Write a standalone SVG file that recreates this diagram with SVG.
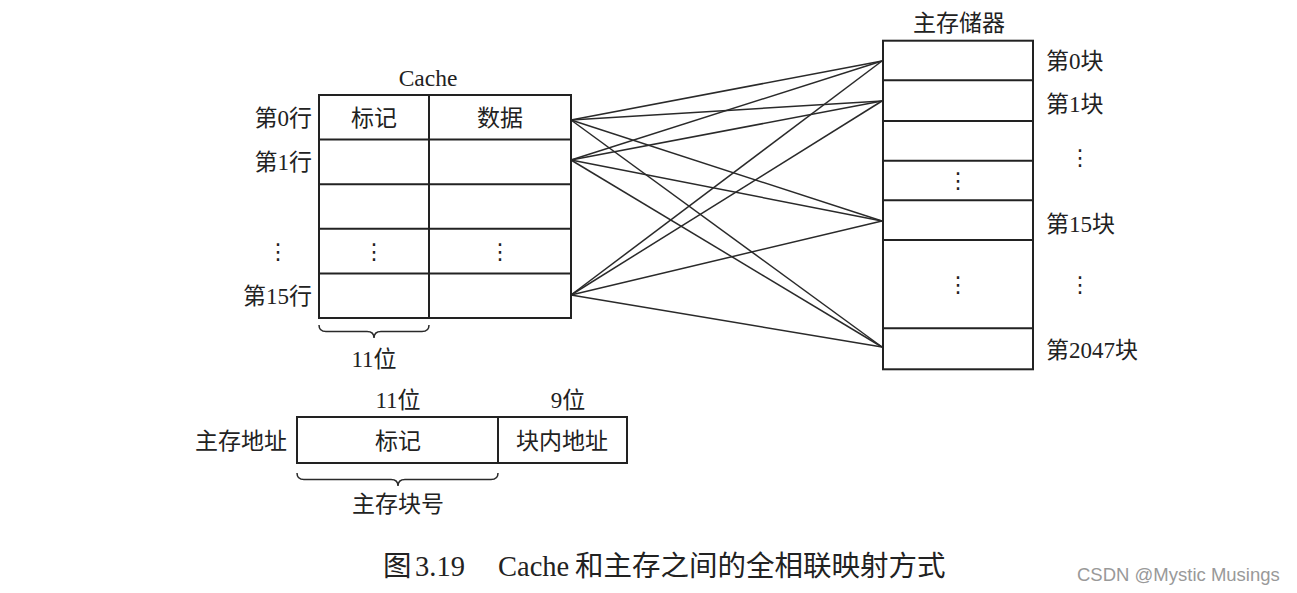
<svg xmlns="http://www.w3.org/2000/svg" width="1297" height="593" viewBox="0 0 1297 593">
<style>
.box{fill:#fff;stroke:#222;stroke-width:2}
.ln{stroke:#222;stroke-width:2;fill:none}
.cn{stroke:#2a2a2a;stroke-width:1.5;fill:none}
.t{font-family:"Liberation Serif","Noto Sans CJK SC",serif;font-size:23px;fill:#222}
.c{text-anchor:middle}
.r{text-anchor:end}
.dots{font-family:"DejaVu Sans",sans-serif;font-size:22px;fill:#222;text-anchor:middle}
.cap{font-family:"Liberation Serif","Noto Sans CJK SC",serif;font-size:28.5px;fill:#222}
.wm{font-family:"Liberation Sans",Arial,sans-serif;font-size:18.5px;fill:#999}
</style>
<rect width="1297" height="593" fill="#fff"/>

<g id="connectors">
<line class="cn" x1="571" y1="120" x2="882" y2="61"/>
<line class="cn" x1="571" y1="120" x2="882" y2="101"/>
<line class="cn" x1="571" y1="120" x2="882" y2="221"/>
<line class="cn" x1="571" y1="120" x2="882" y2="347"/>
<line class="cn" x1="571" y1="160" x2="882" y2="61"/>
<line class="cn" x1="571" y1="160" x2="882" y2="101"/>
<line class="cn" x1="571" y1="160" x2="882" y2="221"/>
<line class="cn" x1="571" y1="160" x2="882" y2="347"/>
<line class="cn" x1="571" y1="295" x2="882" y2="61"/>
<line class="cn" x1="571" y1="295" x2="882" y2="101"/>
<line class="cn" x1="571" y1="295" x2="882" y2="221"/>
<line class="cn" x1="571" y1="295" x2="882" y2="347"/>
</g>

<g id="cache">
<text class="t c" x="428" y="86" style="font-size:23.5px">Cache</text>
<rect class="box" x="319" y="95" width="252" height="223"/>
<line class="ln" x1="429" y1="95" x2="429" y2="318"/>
<line class="ln" x1="319" y1="139.6" x2="571" y2="139.6"/>
<line class="ln" x1="319" y1="184.2" x2="571" y2="184.2"/>
<line class="ln" x1="319" y1="228.8" x2="571" y2="228.8"/>
<line class="ln" x1="319" y1="273.4" x2="571" y2="273.4"/>
<text class="t c" x="374" y="126">标记</text>
<text class="t c" x="500" y="126">数据</text>
<text class="t r" x="312" y="126">第0行</text>
<text class="t r" x="312" y="170">第1行</text>
<text class="dots" x="278" y="259">⋮</text>
<text class="dots" x="374" y="259">⋮</text>
<text class="dots" x="500" y="259">⋮</text>
<text class="t r" x="312" y="304">第15行</text>
<path class="cn" d="M319,325 Q319,331.5 326,331.5 L367,331.5 Q374,331.5 374,338 Q374,331.5 381,331.5 L422,331.5 Q429,331.5 429,325"/>
<text class="t c" x="374" y="367">11位</text>
</g>

<g id="memory">
<text class="t c" x="959" y="31">主存储器</text>
<rect class="box" x="883" y="40.7" width="150" height="328.6"/>
<line class="ln" x1="883" y1="80.3" x2="1033" y2="80.3"/>
<line class="ln" x1="883" y1="121" x2="1033" y2="121"/>
<line class="ln" x1="883" y1="160.7" x2="1033" y2="160.7"/>
<line class="ln" x1="883" y1="200.3" x2="1033" y2="200.3"/>
<line class="ln" x1="883" y1="240" x2="1033" y2="240"/>
<line class="ln" x1="883" y1="328.3" x2="1033" y2="328.3"/>
<text class="dots" x="958" y="188">⋮</text>
<text class="dots" x="958" y="292">⋮</text>
<text class="t" x="1046" y="69">第0块</text>
<text class="t" x="1046" y="112">第1块</text>
<text class="dots" x="1080" y="165">⋮</text>
<text class="t" x="1046" y="232">第15块</text>
<text class="dots" x="1080" y="292">⋮</text>
<text class="t" x="1046" y="358">第2047块</text>
</g>

<g id="address">
<text class="t r" x="287" y="449">主存地址</text>
<rect class="box" x="297" y="417" width="330" height="46"/>
<line class="ln" x1="498" y1="417" x2="498" y2="463"/>
<text class="t c" x="398" y="408">11位</text>
<text class="t c" x="568" y="408">9位</text>
<text class="t c" x="398" y="449">标记</text>
<text class="t c" x="562" y="449">块内地址</text>
<path class="cn" d="M297,473 Q297,479.5 304,479.5 L391,479.5 Q398,479.5 398,486 Q398,479.5 405,479.5 L491,479.5 Q498,479.5 498,473"/>
<text class="t c" x="398" y="512">主存块号</text>
</g>

<g id="caption">
<text class="cap" y="576"><tspan x="383">图</tspan><tspan x="415">3.19</tspan><tspan x="498">Cache</tspan><tspan x="575">和主存之间的全相联映射方式</tspan></text>
<text class="wm" x="1077" y="581">CSDN @Mystic Musings</text>
</g>
</svg>
